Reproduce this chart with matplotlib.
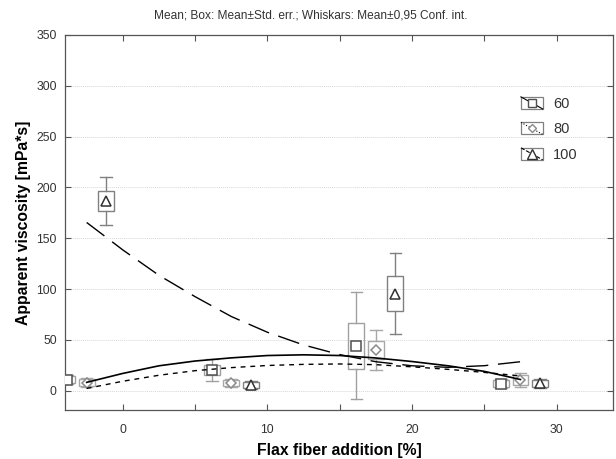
import matplotlib
matplotlib.use('Agg')
import matplotlib.pyplot as plt
from matplotlib.lines import Line2D
from matplotlib.patches import Rectangle
from matplotlib.legend_handler import HandlerBase
from matplotlib.ticker import FixedLocator, FixedFormatter

plt.rcParams['font.family'] = ['Liberation Sans', 'DejaVu Sans']

# ---- data ----
series = ['60', '80', '100']
group_x = [-2.5, 7.5, 17.5, 27.5]
offsets = {'60': -1.35, '80': 0.0, '100': 1.35}

means_60 = [11.0, 20.4, 44.3, 7.0]
se_60 = [3.5, 4.9, 22.6, 3.5]
ci_60 = [4.5, 11.0, 52.5, 4.5]

means_80 = [7.9, 7.3, 40.1, 10.5]
se_80 = [3.5, 3.0, 8.5, 5.0]
ci_80 = [4.5, 3.8, 20.0, 6.5]

means_100 = [186.5, 5.6, 95.5, 7.3]
se_100 = [9.8, 3.0, 17.5, 3.6]
ci_100 = [23.5, 3.8, 40.0, 4.5]

# fitted curves
curve_x = [-2.5, 0, 2.5, 5, 7.5, 10, 12.5, 15, 17.5, 20, 22.5, 25, 27.5]
curve_60 = [8.2, 17.0, 24.5, 29.2, 32.3, 34.6, 35.3, 34.6, 32.2, 28.7, 24.5, 19.0, 11.0]
curve_80 = [2.2, 9.3, 15.2, 19.7, 22.7, 24.8, 25.9, 26.3, 25.6, 23.5, 21.0, 18.0, 14.5]
curve_100 = [165.5, 138.5, 113.5, 92.5, 73.0, 57.5, 45.0, 35.5, 28.5, 24.5, 23.0, 24.6, 28.5]

x_ticks = [0, 5, 10, 15, 20, 25, 30]
x_ticklabels = ['0', '', '10', '', '20', '', '30']
y_ticks = [0, 50, 100, 150, 200, 250, 300, 350]

data = {
    '60': (means_60, se_60, ci_60),
    '80': (means_80, se_80, ci_80),
    '100': (means_100, se_100, ci_100),
}
curves = {'60': curve_60, '80': curve_80, '100': curve_100}

# ---- styles ----
box_col = {'60': '#a0a0a0', '80': '#a8a8a8', '100': '#808080'}
mk = {'60': 's', '80': 'D', '100': '^'}
mk_size = {'60': 6.5, '80': 5.5, '100': 7.5}
mk_col = {'60': '#505050', '80': '#8a8a8a', '100': '#303030'}
line_style = {'60': '-', '80': (0, (3.5, 3.5)), '100': (0, (16, 7))}
line_w = {'60': 1.2, '80': 1.0, '100': 1.0}

fig = plt.figure(figsize=(6.16, 4.59), dpi=100)
ax = fig.add_axes([65 / 616, 1 - 410 / 459, 548 / 616, 375 / 459])

ax.set_xlim(-4, 33.9)
ax.set_ylim(-19, 350)

for y in y_ticks:
    ax.axhline(y, color='#d8d8d8', lw=0.7, ls=(0, (1, 1)), zorder=0)

box_w = 1.1
cap_w = 0.8
for s in series:
    m_arr, se_arr, ci_arr = data[s]
    for gx, m, e, c in zip(group_x, m_arr, se_arr, ci_arr):
        x = gx + offsets[s]
        col = box_col[s]
        ax.add_patch(Rectangle((x - box_w / 2, m - e), box_w, 2 * e,
                               facecolor='none', edgecolor=col, lw=1.0, zorder=3))
        ax.plot([x, x], [m + e, m + c], color=col, lw=1.0, zorder=3)
        ax.plot([x, x], [m - e, m - c], color=col, lw=1.0, zorder=3)
        ax.plot([x - cap_w / 2, x + cap_w / 2], [m + c, m + c], color=col, lw=1.0, zorder=3)
        ax.plot([x - cap_w / 2, x + cap_w / 2], [m - c, m - c], color=col, lw=1.0, zorder=3)
        ax.plot([x], [m], marker=mk[s], ms=mk_size[s], mfc='white',
                mec=mk_col[s], mew=1.1, ls='none', zorder=4)

for s in series:
    ax.plot(curve_x, curves[s], color='black', lw=line_w[s], ls=line_style[s], zorder=5)

# axes styling
for sp in ax.spines.values():
    sp.set_color('#555555')
    sp.set_linewidth(0.9)
ax.xaxis.set_major_locator(FixedLocator(x_ticks))
ax.xaxis.set_major_formatter(FixedFormatter(x_ticklabels))
ax.set_yticks(y_ticks)
ax.tick_params(direction='in', top=True, right=True, length=4, width=0.8,
               color='#555555', labelcolor='#333333', labelsize=8.8)
ax.tick_params(axis='x', pad=10)
ax.tick_params(axis='y', pad=6)

ax.set_xlabel('Flax fiber addition [%]', fontsize=11.3, fontweight='bold', labelpad=5)
ax.set_ylabel('Apparent viscosity [mPa*s]', fontsize=11.3, fontweight='bold', labelpad=4)

fig.text(0.505, 1 - 16 / 459, 'Mean; Box: Mean±Std. err.; Whiskars: Mean±0,95 Conf. int.',
         ha='center', va='center', fontsize=8.6, color='#333333')


class BoxHandler(HandlerBase):
    def create_artists(self, legend, orig_handle, xdescent, ydescent, width,
                       height, fontsize, trans):
        x0, y0 = -xdescent, -ydescent
        rect = Rectangle((x0, y0), width, height, facecolor='white',
                         edgecolor='#808080', lw=0.9, transform=trans)
        diag = Line2D([x0, x0 + width], [y0 + height, y0], color='black',
                      lw=0.8, ls=orig_handle.get_linestyle(), transform=trans)
        mark = Line2D([x0 + width / 2], [y0 + height / 2], marker=orig_handle.get_marker(),
                      ms=orig_handle.get_markersize(), mfc='white',
                      mec=orig_handle.get_markeredgecolor(), mew=1.0, ls='none',
                      transform=trans)
        return [rect, diag, mark]


handles = []
for s in series:
    h = Line2D([], [], marker=mk[s], ms=mk_size[s] - 1, mec=mk_col[s],
               ls=line_style[s] if s != '80' else ':', color='black')
    handles.append(h)

leg = ax.legend(handles, series, handler_map={Line2D: BoxHandler()},
                loc='upper left', bbox_to_anchor=(0.808, 0.87), frameon=False,
                fontsize=10.5, handlelength=1.5, handleheight=0.9,
                labelspacing=0.78, handletextpad=0.7, labelcolor='#333333')

fig.savefig('out.png', dpi=100)
